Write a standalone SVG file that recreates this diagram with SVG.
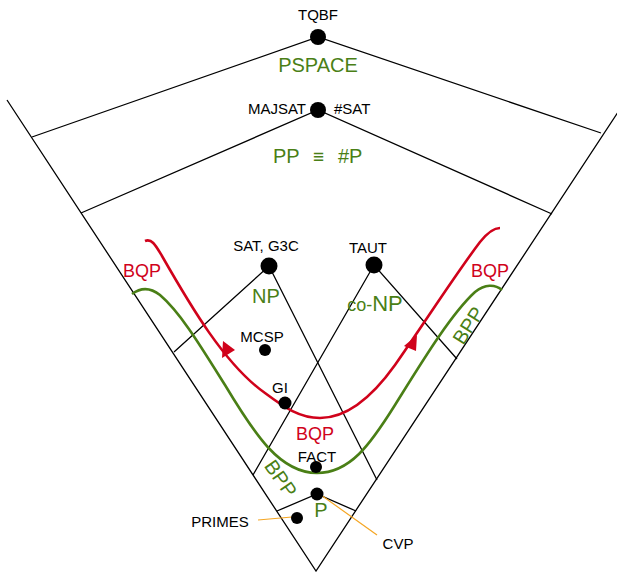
<svg xmlns="http://www.w3.org/2000/svg" width="617" height="572" viewBox="0 0 617 572">
  <style>
    .edge { fill: none; stroke: #000; stroke-width: 1.3; }
    .dot { fill: #000; }
    .lbl { font-family: "Liberation Sans", Arial, sans-serif; font-size: 15px; fill: #000; }
    .cls { font-family: "Liberation Sans", Arial, sans-serif; font-size: 20px; fill: #4a7f16; }
    .qcls { font-family: "Liberation Sans", Arial, sans-serif; font-size: 18px; fill: #d0021b; }
    .bqp { fill: none; stroke: #d0021b; stroke-width: 2.6; }
    .bpp { fill: none; stroke: #4a7f16; stroke-width: 2.6; }
    .lead { fill: none; stroke: #f5a623; stroke-width: 1.2; }
  </style>
  <rect width="617" height="572" fill="#fff"/>

  <!-- class boundaries and curves -->
  <g id="connectors">
    <path class="edge" d="M7,100 L316,571 L626,100"/>
    <path class="edge" d="M32,137 L318,37 L601,133"/>
    <path class="edge" d="M81,213 L318,110 L552,214"/>
    <path class="edge" d="M174,352 L269,266 L377,480"/>
    <path class="edge" d="M253,475 L374,265 L457,359"/>
    <path class="edge" d="M277,511 L317,494 L356,511"/>
    <path class="bqp" d="M145,241 C152,238 156,246 162,256 C190,305 225,365 265,393 C285,408 300,418 320,418 C345,418 370,400 395,365 C425,322 455,275 480,242 C488,232 494,228 500,228"/>
    <path class="bpp" d="M132,294 C140,288 150,287 160,295 C180,312 200,345 225,385 C255,435 280,473 317,473 C350,473 370,445 395,405 C420,365 450,315 475,292 C485,284 495,284 502,290"/>
    <polygon fill="#d0021b" points="223,341 235,350 222,358"/>
    <polygon fill="#d0021b" points="417,335 416,351 404,346"/>
    <path class="lead" d="M258,520 L292,517"/>
    <path class="lead" d="M321,495 L377,535"/>
  </g>

  <g id="tqbf"><circle class="dot" cx="318" cy="37" r="8"/><text class="lbl" x="318" y="20" text-anchor="middle">TQBF</text></g>
  <g id="pspace"><text class="cls" x="318" y="72" text-anchor="middle">PSPACE</text></g>
  <g id="majsat"><circle class="dot" cx="318" cy="110" r="8"/><text class="lbl" x="306" y="114" text-anchor="end">MAJSAT</text><text class="lbl" x="334" y="114">#SAT</text></g>
  <g id="pp"><text class="cls" y="163"><tspan x="273">PP</tspan><tspan x="318.5" text-anchor="middle" font-size="19">≡</tspan><tspan x="338">#P</tspan></text></g>
  <g id="sat"><circle class="dot" cx="269" cy="266" r="8.5"/><text class="lbl" x="266" y="251" text-anchor="middle">SAT, G3C</text></g>
  <g id="np"><text class="cls" x="266" y="303" text-anchor="middle" font-size="22">NP</text></g>
  <g id="taut"><circle class="dot" cx="374" cy="265" r="8.5"/><text class="lbl" x="368" y="253" text-anchor="middle">TAUT</text></g>
  <g id="conp"><text class="cls" x="375" y="311" text-anchor="middle"><tspan font-size="18">co-</tspan><tspan font-size="22">NP</tspan></text></g>
  <g id="mcsp"><circle class="dot" cx="265" cy="350" r="6"/><text class="lbl" x="262" y="342" text-anchor="middle">MCSP</text></g>
  <g id="gi"><circle class="dot" cx="285" cy="403" r="6.5"/><text class="lbl" x="280" y="393" text-anchor="middle">GI</text></g>
  <g id="fact"><circle class="dot" cx="316" cy="467" r="6"/><text class="lbl" x="317" y="462" text-anchor="middle">FACT</text></g>
  <g id="p"><circle class="dot" cx="317" cy="494" r="6.5"/><text class="cls" x="321" y="517" text-anchor="middle" font-size="22">P</text></g>
  <g id="primes"><circle class="dot" cx="297" cy="518" r="6"/><text class="lbl" x="220" y="527" text-anchor="middle">PRIMES</text></g>
  <g id="cvp"><text class="lbl" x="398" y="549" text-anchor="middle">CVP</text></g>
  <g id="bqp-left"><text class="qcls" x="142" y="277" text-anchor="middle">BQP</text></g>
  <g id="bqp-right"><text class="qcls" x="490" y="277" text-anchor="middle">BQP</text></g>
  <g id="bqp-mid"><text class="qcls" x="315" y="440" text-anchor="middle">BQP</text></g>
  <g id="bpp-right"><text class="cls" font-size="18" text-anchor="middle" transform="translate(469,326) rotate(-57)" y="6">BPP</text></g>
  <g id="bpp-left"><text class="cls" font-size="18" text-anchor="middle" transform="translate(280,479) rotate(55)" y="6">BPP</text></g>
</svg>
